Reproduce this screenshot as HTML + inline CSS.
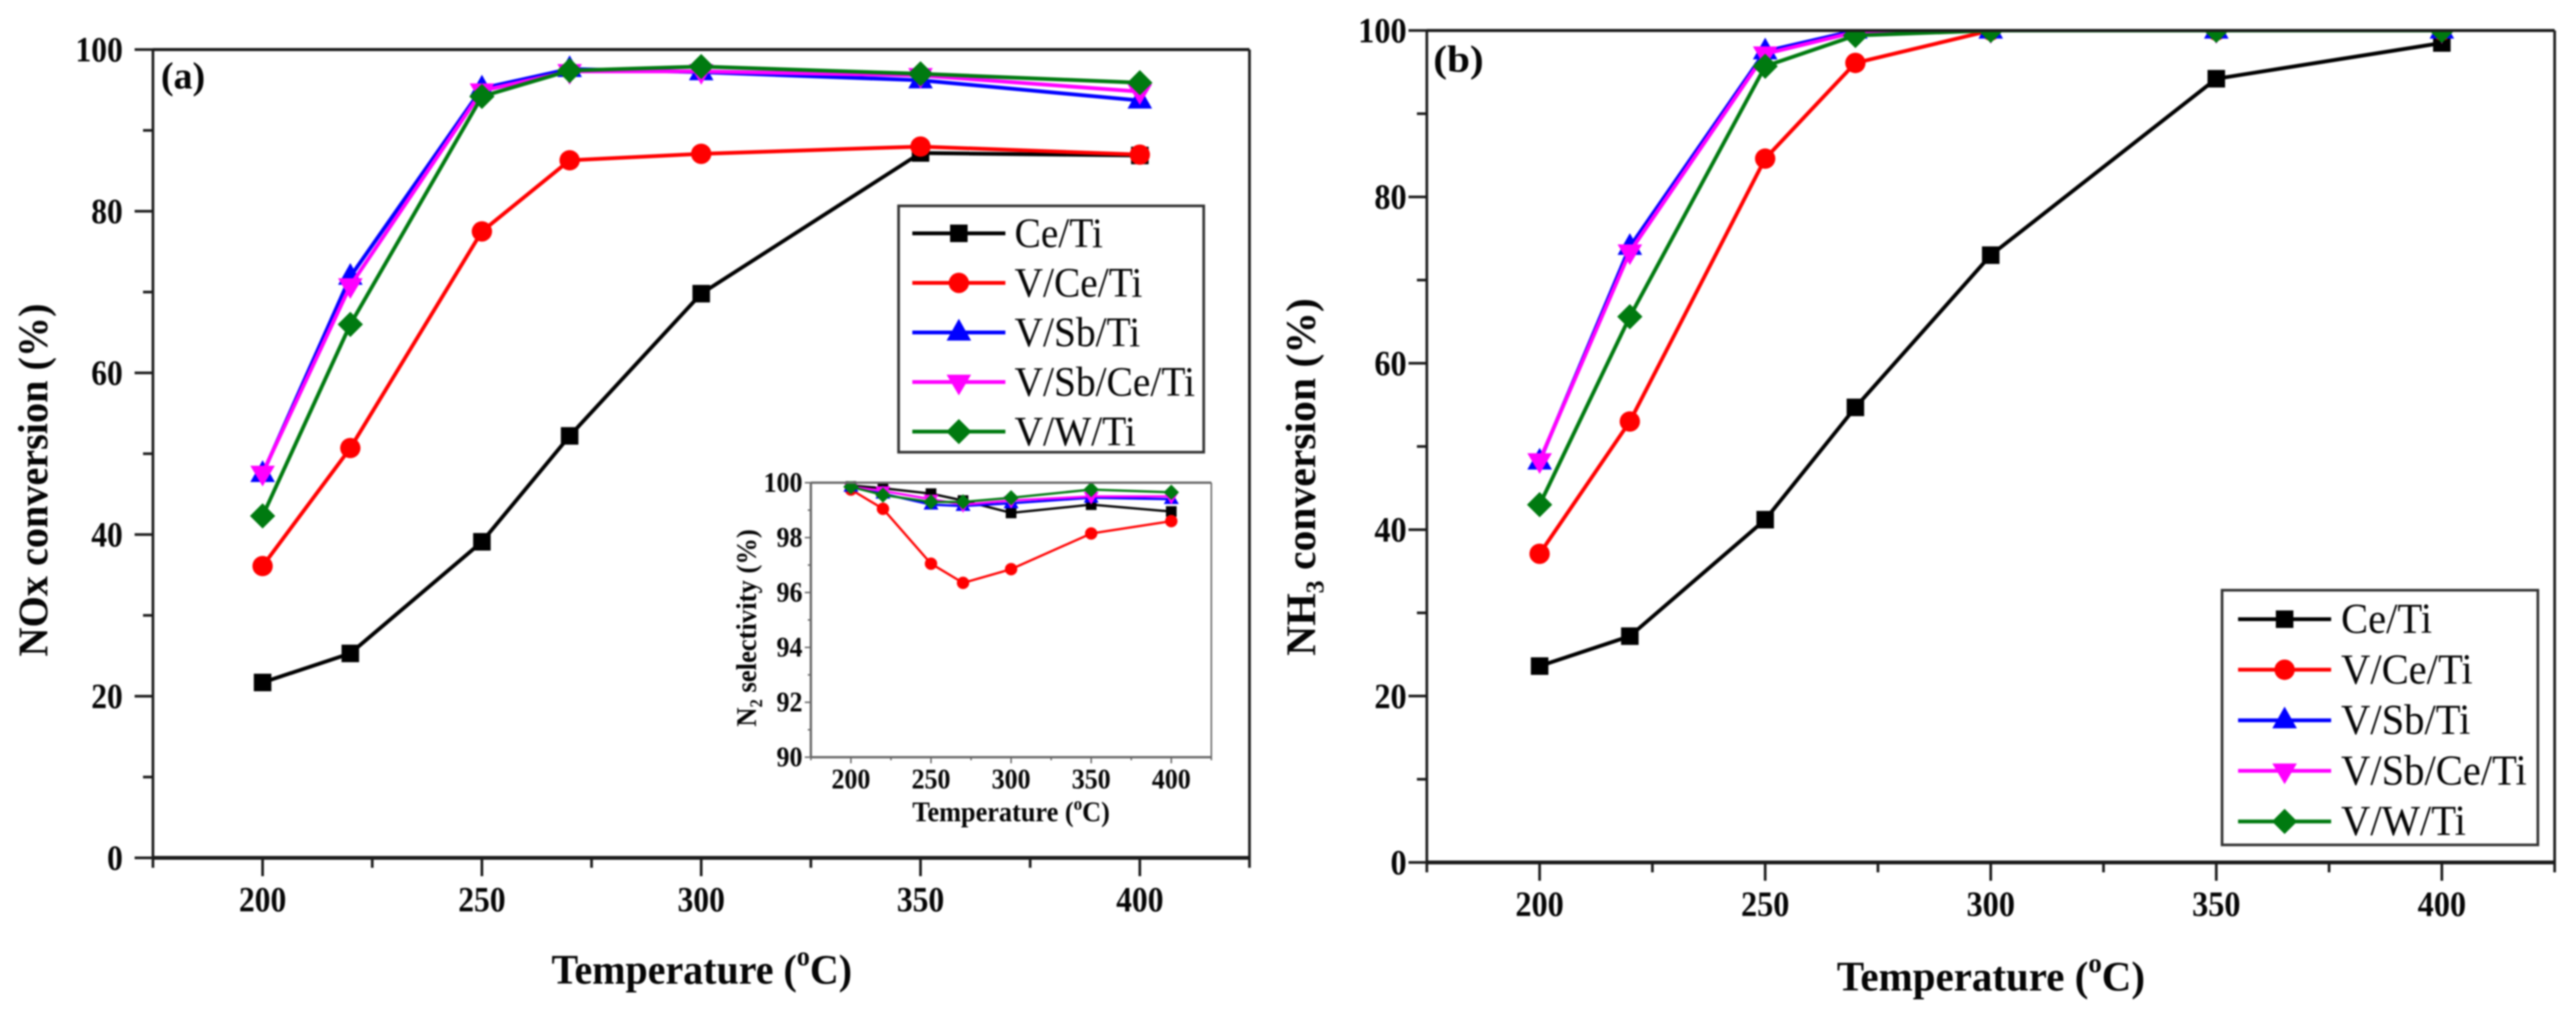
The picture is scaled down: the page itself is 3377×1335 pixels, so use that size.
<!DOCTYPE html>
<html lang="en">
<head>
<meta charset="utf-8">
<title>NOx and NH3 conversion vs temperature</title>
<style>
html,body{margin:0;padding:0;background:#fff;}
body{width:3377px;height:1335px;overflow:hidden;}
svg{display:block;filter:blur(1.1px);}
text{font-family:"Liberation Serif",serif;fill:#050505;}
.t{font-weight:bold;}
</style>
</head>
<body>
<svg id="figure" xmlns="http://www.w3.org/2000/svg" width="3377" height="1335" viewBox="0 0 3377 1335">
  <rect width="3377" height="1335" fill="#fff"/>
  <defs>
    <clipPath id="clip-a"><rect x="150" y="62" width="1510" height="1100"/></clipPath>
    <clipPath id="clip-b"><rect x="1830" y="39" width="1540" height="1120"/></clipPath>
    <clipPath id="clip-c"><rect x="1040" y="631" width="570" height="380"/></clipPath>
  </defs>
  <g id="panel-a"></g>
  <g id="panel-b"></g>
  <g id="panel-c"></g>

  <text class="t" x="211" y="116" font-size="50" textLength="58" lengthAdjust="spacingAndGlyphs">(a)</text>
  <text class="t" x="1879" y="94" font-size="50" textLength="66" lengthAdjust="spacingAndGlyphs">(b)</text>

  <text class="t" transform="translate(62,861) rotate(-90)" font-size="55" textLength="463" lengthAdjust="spacingAndGlyphs">NOx conversion (%)</text>
  <text class="t" transform="translate(1724,860) rotate(-90)" font-size="55" textLength="469" lengthAdjust="spacingAndGlyphs">NH<tspan font-size="34" dy="11">3</tspan><tspan dy="-11"> conversion (%)</tspan></text>
  <text class="t" x="723" y="1290" font-size="55" textLength="394" lengthAdjust="spacingAndGlyphs">Temperature (<tspan font-size="36" dy="-24">o</tspan><tspan dy="24">C)</tspan></text>
  <text class="t" x="2408" y="1299" font-size="55" textLength="404" lengthAdjust="spacingAndGlyphs">Temperature (<tspan font-size="36" dy="-24">o</tspan><tspan dy="24">C)</tspan></text>
  <text class="t" transform="translate(991,953) rotate(-90)" font-size="37" textLength="259" lengthAdjust="spacingAndGlyphs">N<tspan font-size="23" dy="8">2</tspan><tspan dy="-8"> selectivity (%)</tspan></text>
  <text class="t" x="1196" y="1077" font-size="37" textLength="259" lengthAdjust="spacingAndGlyphs">Temperature (<tspan font-size="24" dy="-15">o</tspan><tspan dy="15">C)</tspan></text>
</svg>

<script>
const temperatures = [200, 220, 250, 270, 300, 350, 400];
const seriesNames = ['Ce/Ti', 'V/Ce/Ti', 'V/Sb/Ti', 'V/Sb/Ce/Ti', 'V/W/Ti'];
const seriesColors = ['#000000', '#ff0000', '#0000ff', '#ff00ff', '#007a10'];
const seriesShapes = ['square', 'circle', 'up', 'down', 'diamond'];

const noxCeTi = [21.7, 25.3, 39.1, 52.2, 69.8, 87.2, 86.9];
const noxVCeTi = [36.1, 50.7, 77.5, 86.3, 87.1, 88.0, 87.0];
const noxVSbTi = [47.5, 71.9, 95.2, 97.6, 97.2, 96.2, 93.7];
const noxVSbCeTi = [47.6, 70.8, 94.9, 97.3, 97.3, 96.8, 94.8];
const noxVWTi = [42.3, 66.0, 94.2, 97.4, 97.9, 97.0, 95.9];

const nh3CeTi = [23.6, 27.2, 41.2, 54.7, 73.0, 94.2, 98.5];
const nh3VCeTi = [37.1, 53.0, 84.6, 96.1, 100, 100, 100];
const nh3VSbTi = [48.2, 74.0, 97.5, 100, 100, 100, 100];
const nh3VSbCeTi = [48.3, 73.4, 97.2, 99.8, 100, 100, 100];
const nh3VWTi = [43.0, 65.6, 95.7, 99.4, 100, 100, 100];

const selCeTi = [99.9, 99.8, 99.6, 99.35, 98.9, 99.2, 98.95];
const selVCeTi = [99.75, 99.05, 97.05, 96.35, 96.85, 98.15, 98.6];
const selVSbTi = [99.85, 99.6, 99.2, 99.15, 99.25, 99.45, 99.4];
const selVSbCeTi = [99.85, 99.7, 99.4, 99.2, 99.35, 99.5, 99.5];
const selVWTi = [99.85, 99.55, 99.3, 99.3, 99.45, 99.75, 99.65];

const xMajorTicks = [200, 250, 300, 350, 400];
const xMinorTicks = [175, 225, 275, 325, 375, 425];
const yMajorTicks = [0, 20, 40, 60, 80, 100];
const yMinorTicks = [10, 30, 50, 70, 90];
const insetYMajorTicks = [90, 92, 94, 96, 98, 100];
const insetYMinorTicks = [91, 93, 95, 97, 99];

const NS = 'http://www.w3.org/2000/svg';

function make(parent, tag, props) {
  const el = document.createElementNS(NS, tag);
  for (const key in props) el.setAttribute(key, props[key]);
  parent.appendChild(el);
  return el;
}

function squeeze(textEl, factor) {
  const natural = textEl.getComputedTextLength();
  textEl.setAttribute('textLength', natural * factor);
  textEl.setAttribute('lengthAdjust', 'spacingAndGlyphs');
}

function markerPath(shape, cx, cy, s) {
  if (shape === 'square') return `M${cx-s/2} ${cy-s/2}h${s}v${s}h${-s}Z`;
  if (shape === 'circle') {
    const r = s * 0.58;
    return `M${cx-r} ${cy}a${r} ${r} 0 1 0 ${2*r} 0a${r} ${r} 0 1 0 ${-2*r} 0Z`;
  }
  if (shape === 'up') {
    const w = s * 0.7;
    return `M${cx} ${cy-s*0.78}L${cx+w} ${cy+s*0.46}H${cx-w}Z`;
  }
  if (shape === 'down') {
    const w = s * 0.7;
    return `M${cx} ${cy+s*0.76}L${cx+w} ${cy-s*0.42}H${cx-w}Z`;
  }
  const d = s * 0.72;
  return `M${cx} ${cy-d}L${cx+d} ${cy}L${cx} ${cy+d}L${cx-d} ${cy}Z`;
}

function drawChart(cfg) {
  const root = document.getElementById(cfg.rootId);
  const xScale = v => cfg.left + (v - cfg.xMin) / (cfg.xMax - cfg.xMin) * (cfg.right - cfg.left);
  const yScale = v => cfg.bottom - (v - cfg.yMin) / (cfg.yMax - cfg.yMin) * (cfg.bottom - cfg.top);

  const plot = make(root, 'g', { 'clip-path': `url(#${cfg.clipId})` });
  
  

  cfg.series.forEach((values, i) => {
    const name = seriesNames[i].toLowerCase().replace(/\//g, '-');
    const points = values.map((v, k) => xScale(temperatures[k]) + ',' + yScale(v)).join(' ');
    const line = make(plot, 'polyline', { points: points, fill: 'none', stroke: seriesColors[i], 'stroke-width': cfg.lineWidth, 'stroke-linejoin': 'round' });
    
    
    values.forEach((v, k) => {
      const mark = make(plot, 'path', { d: markerPath(seriesShapes[i], xScale(temperatures[k]), yScale(v), cfg.markerSize), fill: seriesColors[i] });
      
      
    });
  });

  const axisLine = (x1, y1, x2, y2, w, dn) => {
    const el = make(root, 'line', { x1: x1, y1: y1, x2: x2, y2: y2, stroke: cfg.axisColor, 'stroke-width': w });
    
    
  };
  axisLine(cfg.left, cfg.top, cfg.right, cfg.top, cfg.topWidth, cfg.prefix + '-top-border');
  axisLine(cfg.right, cfg.top, cfg.right, cfg.bottom, cfg.rightWidth, cfg.prefix + '-right-border');
  axisLine(cfg.left, cfg.top, cfg.left, cfg.bottom, cfg.leftWidth, cfg.prefix + '-y-axis');
  axisLine(cfg.left, cfg.bottom, cfg.right, cfg.bottom, cfg.bottomWidth, cfg.prefix + '-x-axis');

  cfg.xMajor.forEach(v => {
    axisLine(xScale(v), cfg.bottom, xScale(v), cfg.bottom + cfg.majorLen, cfg.tickWidth, cfg.prefix + '-x-tick-' + v);
    const label = make(root, 'text', { x: xScale(v), y: cfg.xLabelY, 'font-size': cfg.tickFont, 'text-anchor': 'middle', class: 't' });
    label.textContent = v;
    
    
    squeeze(label, cfg.tickSqueeze);
  });
  cfg.xMinor.forEach(v => {
    axisLine(xScale(v), cfg.bottom, xScale(v), cfg.bottom + cfg.minorLen, cfg.tickWidth, cfg.prefix + '-x-minor-tick-' + v);
  });
  cfg.yMajor.forEach(v => {
    axisLine(cfg.left - cfg.majorLen, yScale(v), cfg.left, yScale(v), cfg.tickWidth, cfg.prefix + '-y-tick-' + v);
    const label = make(root, 'text', { x: cfg.yLabelX, y: yScale(v) + cfg.tickFont * 0.33, 'font-size': cfg.tickFont, 'text-anchor': 'end', class: 't' });
    label.textContent = v;
    
    
    squeeze(label, cfg.tickSqueeze);
  });
  cfg.yMinor.forEach(v => {
    axisLine(cfg.left - cfg.minorLen, yScale(v), cfg.left, yScale(v), cfg.tickWidth, cfg.prefix + '-y-minor-tick-' + v);
  });

  if (cfg.legend) drawLegend(root, cfg);
}

function drawLegend(root, cfg) {
  const lg = cfg.legend;
  const group = make(root, 'g', {});
  
  
  const box = make(group, 'rect', { x: lg.x, y: lg.y, width: lg.w, height: lg.h, fill: '#fff', stroke: '#333', 'stroke-width': 3.5 });
  
  
  seriesNames.forEach((name, i) => {
    const cy = lg.firstY + i * lg.stepY;
    const key = name.toLowerCase().replace(/\//g, '-');
    const sw = make(group, 'line', { x1: lg.lineX1, y1: cy, x2: lg.lineX2, y2: cy, stroke: seriesColors[i], 'stroke-width': 5 });
    
    
    const mk = make(group, 'path', { d: markerPath(seriesShapes[i], (lg.lineX1 + lg.lineX2) / 2, cy, 23), fill: seriesColors[i] });
    
    
    const tx = make(group, 'text', { x: lg.textX, y: cy + 18, 'font-size': lg.font });
    tx.textContent = name;
    
    
    squeeze(tx, lg.squeeze);
  });
}

drawChart({
  rootId: 'panel-a', clipId: 'clip-a', prefix: 'panel-a',
  left: 200.5, right: 1638, top: 65, bottom: 1125,
  xMin: 175, xMax: 425, yMin: 0, yMax: 100,
  series: [noxCeTi, noxVCeTi, noxVSbTi, noxVSbCeTi, noxVWTi],
  xMajor: xMajorTicks, xMinor: xMinorTicks, yMajor: yMajorTicks, yMinor: yMinorTicks,
  lineWidth: 5, markerSize: 23, axisColor: '#1a1a1a',
  topWidth: 4, rightWidth: 3.5, leftWidth: 3.5, bottomWidth: 5, tickWidth: 3.5,
  majorLen: 24, minorLen: 13, tickFont: 47, tickSqueeze: 0.88, xLabelY: 1195, yLabelX: 161,
  legend: { x: 1178, y: 270, w: 400, h: 323, firstY: 306, stepY: 65, lineX1: 1196, lineX2: 1318, textX: 1330, font: 55, squeeze: 0.94 }
});

drawChart({
  rootId: 'panel-b', clipId: 'clip-b', prefix: 'panel-b',
  left: 1870.5, right: 3349, top: 40, bottom: 1131,
  xMin: 175, xMax: 425, yMin: 0, yMax: 100,
  series: [nh3CeTi, nh3VCeTi, nh3VSbTi, nh3VSbCeTi, nh3VWTi],
  xMajor: xMajorTicks, xMinor: xMinorTicks, yMajor: yMajorTicks, yMinor: yMinorTicks,
  lineWidth: 5, markerSize: 23, axisColor: '#1a1a1a',
  topWidth: 4, rightWidth: 3.5, leftWidth: 3.5, bottomWidth: 5, tickWidth: 3.5,
  majorLen: 24, minorLen: 13, tickFont: 47, tickSqueeze: 0.9, xLabelY: 1201, yLabelX: 1844,
  legend: { x: 2913, y: 774, w: 414, h: 334, firstY: 812, stepY: 66.3, lineX1: 2934, lineX2: 3056, textX: 3069, font: 56, squeeze: 0.95 }
});

drawChart({
  rootId: 'panel-c', clipId: 'clip-c', prefix: 'inset',
  left: 1063, right: 1588, top: 633, bottom: 993,
  xMin: 175, xMax: 425, yMin: 90, yMax: 100,
  series: [selCeTi, selVCeTi, selVSbTi, selVSbCeTi, selVWTi],
  xMajor: xMajorTicks, xMinor: xMinorTicks, yMajor: insetYMajorTicks, yMinor: insetYMinorTicks,
  lineWidth: 3, markerSize: 14, axisColor: '#666',
  topWidth: 3, rightWidth: 2, leftWidth: 3, bottomWidth: 3, tickWidth: 2,
  majorLen: 8, minorLen: 4, tickFont: 37, tickSqueeze: 0.92, xLabelY: 1034, yLabelX: 1052
});
</script>
</body>
</html>
